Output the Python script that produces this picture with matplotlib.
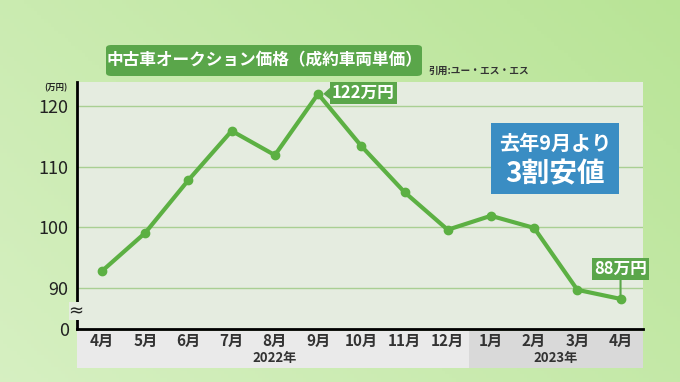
import matplotlib
matplotlib.use("Agg")
import matplotlib.pyplot as plt
import numpy as np
from matplotlib.patches import FancyBboxPatch, Rectangle
from matplotlib.transforms import blended_transform_factory

plt.rcParams['font.family'] = ['Noto Sans CJK JP', 'DejaVu Sans']

months = ["4", "5", "6", "7", "8", "9", "10", "11", "12", "1", "2", "3", "4"]
prices = [92.8, 99.1, 107.8, 115.9, 111.9, 122.0, 113.4, 105.8, 99.6, 101.9, 99.9, 89.7, 88.2]
yticks = [90, 100, 110, 120]
years = ["2022年", "2023年"]
title = "中古車オークション価格（成約車両単価）"
source = "引用:ユー・エス・エス"
unit = "(万円)"
note = "去年9月より\n3割安値"

W, H = 680, 382
fig = plt.figure(figsize=(W / 100, H / 100), dpi=100)

# background gradient
bg = fig.add_axes([0, 0, 1, 1], zorder=-10)
yy, xx = np.mgrid[0:1:100j, 0:1:200j]
c1 = np.array([0.84, 0.94, 0.76])
c2 = np.array([0.71, 0.89, 0.57])
t = np.clip(0.55 * xx + 0.35 * (1 - yy), 0, 1)[..., None]
img = c1 * (1 - t) + c2 * t
bg.imshow(img, aspect='auto', extent=[0, 1, 0, 1], origin='upper')
bg.axis('off')

def fx(px):
    return px / W

def fy(py):
    return 1 - py / H

left, right, top, bottom = 77, 643, 82, 329
ax = fig.add_axes([fx(left), fy(bottom), fx(right) - fx(left), fy(top) - fy(bottom)])
ax.set_facecolor('#e5ece0')

x = np.arange(len(months))
ppu = (288 - 106) / 30.0
ymin = 90 - (329 - 288) / ppu
ymax = 90 + (288 - 82) / ppu
ax.set_ylim(ymin, ymax)
ax.set_xlim(-0.58, 12.52)

for v in yticks:
    ax.axhline(v, color='#a9cf93', lw=1.0, zorder=1)

ax.plot(x, prices, color='#5cb043', lw=3, marker='o', ms=6, zorder=5,
        solid_joinstyle='round')

for s in ['top', 'right']:
    ax.spines[s].set_visible(False)
ax.spines['left'].set_linewidth(2)
ax.spines['bottom'].set_linewidth(2)
ax.spines['left'].set_color('black')
ax.spines['bottom'].set_color('black')

ax.set_yticks(yticks + [ymin])
ax.set_yticklabels([str(v) for v in yticks] + ["0"], fontsize=13, color='#222222')
ax.tick_params(axis='y', length=0, pad=6)
ax.set_xticks([])

# break mark
ax.text(-0.6, ymin + (329 - 311) / ppu, "≈", ha='center', va='center', fontsize=13,
        color='#222222', family=['DejaVu Sans'], zorder=10, clip_on=False,
        bbox=dict(boxstyle='square,pad=0.0', fc='#e5ece0', ec='none'))
ax.text(-0.58 - 0.5, ymax - 1.0, unit, ha='center', va='center', fontsize=6, color='#222222',
        fontweight='bold')

# x-axis strips
trans = blended_transform_factory(ax.transData, fig.transFigure)
y0, y1 = fy(368), fy(331)
ax.add_patch(Rectangle((-0.58, y0), 8.5 + 0.58, y1 - y0, transform=trans, fc='#eaeaea',
                       ec='none', clip_on=False, zorder=0))
ax.add_patch(Rectangle((8.5, y0), 12.52 - 8.5, y1 - y0, transform=trans, fc='#d9d9d9',
                       ec='none', clip_on=False, zorder=0))
for i, m in enumerate(months):
    ax.text(i, fy(341), m + "月", transform=trans, ha='center', va='center', fontsize=11,
            fontweight='bold', color='#333333')
ax.text(4, fy(358), years[0], transform=trans, ha='center', va='center', fontsize=9.5,
        fontweight='bold', color='#333333')
ax.text(10.5, fy(358), years[1], transform=trans, ha='center', va='center', fontsize=9.5,
        fontweight='bold', color='#333333')

# title box
tb = FancyBboxPatch((fx(106), fy(76)), fx(422) - fx(106), fy(45) - fy(76),
                    boxstyle='round,pad=0,rounding_size=0.008', transform=fig.transFigure,
                    fc='#5aa64a', ec='none')
fig.patches.append(tb)
fig.text(fx(264), fy(60.5), title, ha='center', va='center', fontsize=12,
         fontweight='bold', color='white')
fig.text(fx(428), fy(71), source, ha='left', va='center', fontsize=7,
         fontweight='bold', color='#333333')

# callouts
peak = int(np.argmax(prices))
ax.annotate(f"{prices[peak]:.0f}万円", xy=(peak + 0.12, prices[peak]),
            xytext=(peak + 1.05, prices[peak] + 0.2), ha='center', va='center',
            fontsize=12, color='white', fontweight='bold',
            bbox=dict(boxstyle='square,pad=0.12', fc='#5aa64a', ec='none'),
            arrowprops=dict(arrowstyle='wedge,tail_width=0.7', fc='#5aa64a', ec='none',
                            shrinkA=0, shrinkB=0), zorder=6)
last = len(prices) - 1
ax.annotate(f"{prices[last]:.0f}万円", xy=(last, prices[last] + 0.6),
            xytext=(last, prices[last] + 5.0), ha='center', va='center',
            fontsize=12, color='white', fontweight='bold',
            bbox=dict(boxstyle='square,pad=0.12', fc='#5aa64a', ec='none'),
            arrowprops=dict(arrowstyle='-', color='#5aa64a', lw=1.5,
                            shrinkA=0, shrinkB=0), zorder=6)

# note box
nb = Rectangle((fx(491), fy(194)), fx(619) - fx(491), fy(123) - fy(194),
               transform=fig.transFigure, fc='#3a8dc3', ec='none', zorder=5)
fig.patches.append(nb)
fig.text(fx(555), fy(143), note.split("\n")[0], ha='center', va='center', fontsize=14.5,
         fontweight='bold', color='white', zorder=6)
fig.text(fx(555), fy(174), note.split("\n")[1], ha='center', va='center', fontsize=20,
         fontweight='bold', color='white', zorder=6)

fig.savefig("out.png", dpi=100)
